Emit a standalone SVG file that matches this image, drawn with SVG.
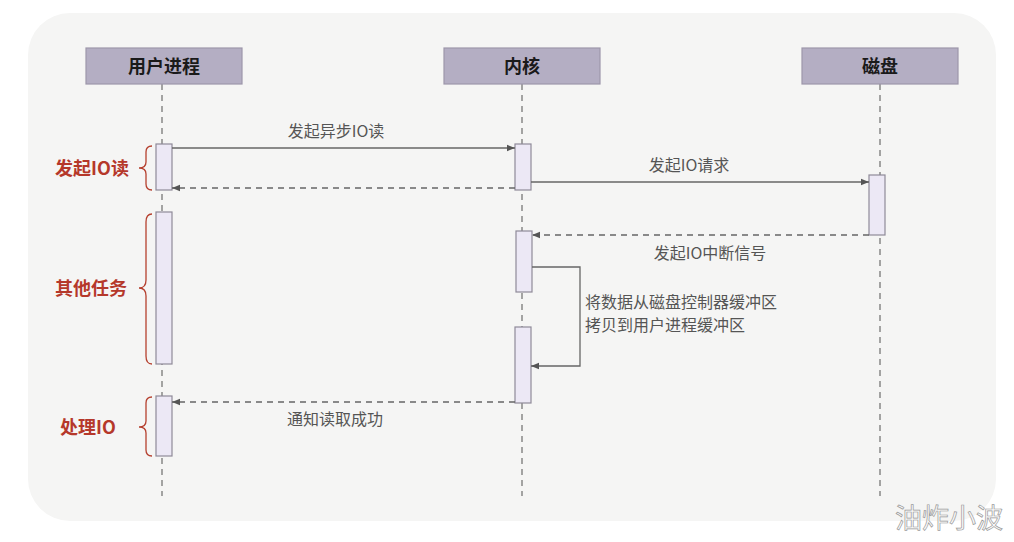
<svg xmlns="http://www.w3.org/2000/svg" width="1014" height="542" viewBox="0 0 1014 542">
<defs>
<style>
.hdr{fill:#b4aec3;stroke:#9d97aa;stroke-width:1.2}
.ht{font-family:"Noto Sans CJK SC","Noto Sans",sans-serif;font-size:18px;font-weight:bold;fill:#1a1a1a;text-anchor:middle}
.life{stroke:#777;stroke-width:1.3;stroke-dasharray:6,5;fill:none}
.act{fill:#ece8f5;stroke:#8f8a98;stroke-width:1.2}
.msg{stroke:#666;stroke-width:1.3;fill:none}
.dash{stroke-dasharray:6,5}
.ml{font-family:"Noto Sans CJK SC","Noto Sans",sans-serif;font-size:16px;fill:#555;}
.br{stroke:#b5402f;stroke-width:1.3;fill:none}
.bt{font-family:"Noto Sans CJK SC","Noto Sans",sans-serif;font-size:18px;font-weight:bold;fill:#b5382a;text-anchor:middle}
</style>
<marker id="ah" viewBox="0 0 10 10" refX="10" refY="5" markerWidth="8" markerHeight="8" markerUnits="userSpaceOnUse" orient="auto"><path d="M0,1 L10,5 L0,9 z" fill="#555"/></marker>
</defs>
<rect width="1014" height="542" fill="#ffffff"/>
<rect x="28" y="13" width="968" height="508" rx="42" fill="#f5f5f4"/>
<g id="lifelines">
<line class="life" x1="162" y1="84" x2="162" y2="496"/>
<line class="life" x1="522" y1="84" x2="522" y2="496"/>
<line class="life" x1="880" y1="84" x2="880" y2="496"/>
</g>
<g id="user"><rect class="hdr" x="86" y="48" width="156" height="36"/><text class="ht" x="164" y="72.5">用户进程</text></g>
<g id="kernel"><rect class="hdr" x="444" y="48" width="156" height="36"/><text class="ht" x="522" y="72.5">内核</text></g>
<g id="disk"><rect class="hdr" x="802" y="48" width="156" height="36"/><text class="ht" x="880" y="72.5">磁盘</text></g>
<g id="activations">
<rect class="act" x="156" y="144" width="16" height="46"/>
<rect class="act" x="156" y="212" width="16" height="152"/>
<rect class="act" x="156" y="396" width="16" height="60"/>
<rect class="act" x="515" y="144" width="16" height="46"/>
<rect class="act" x="516" y="231" width="16" height="61"/>
<rect class="act" x="515" y="327" width="16" height="76"/>
<rect class="act" x="869" y="175" width="16" height="60"/>
</g>
<g id="connectors">
<line class="msg" x1="172" y1="148" x2="515" y2="148" marker-end="url(#ah)"/>
<line class="msg dash" x1="515" y1="188" x2="172" y2="188" marker-end="url(#ah)"/>
<line class="msg" x1="531" y1="182" x2="869" y2="182" marker-end="url(#ah)"/>
<line class="msg dash" x1="869" y1="235" x2="532" y2="235" marker-end="url(#ah)"/>
<polyline class="msg" points="532,267 580,267 580,366 531,366" marker-end="url(#ah)"/>
<line class="msg dash" x1="515" y1="402" x2="172" y2="402" marker-end="url(#ah)"/>
</g>
<g id="labels">
<text class="ml" x="336" y="137" text-anchor="middle">发起异步IO读</text>
<text class="ml" x="689" y="171" text-anchor="middle">发起IO请求</text>
<text class="ml" x="710" y="259" text-anchor="middle">发起IO中断信号</text>
<text class="ml" x="585" y="308">将数据从磁盘控制器缓冲区</text>
<text class="ml" x="585" y="331">拷贝到用户进程缓冲区</text>
<text class="ml" x="335" y="425" text-anchor="middle">通知读取成功</text>
</g>
<g id="brace1">
<path class="br" d="M152,146 Q146,146 146,152 L146,162 Q146,168 139,168 Q146,168 146,174 L146,184 Q146,190 152,190"/>
<text class="bt" x="92" y="175">发起IO读</text>
</g>
<g id="brace2">
<path class="br" d="M152,214 Q146,214 146,222 L146,280 Q146,288 139,288 Q146,288 146,296 L146,356 Q146,364 152,364"/>
<text class="bt" x="91" y="295">其他任务</text>
</g>
<g id="brace3">
<path class="br" d="M152,397 Q146,397 146,403 L146,421 Q146,427 139,427 Q146,427 146,433 L146,450 Q146,456 152,456"/>
<text class="bt" x="88" y="434">处理IO</text>
</g>
<text x="949" y="528" text-anchor="middle" font-family="Noto Sans CJK SC,sans-serif" font-size="27" fill="#fafafa" stroke="#9a9a9a" stroke-width="0.7">油炸小波</text>
</svg>
